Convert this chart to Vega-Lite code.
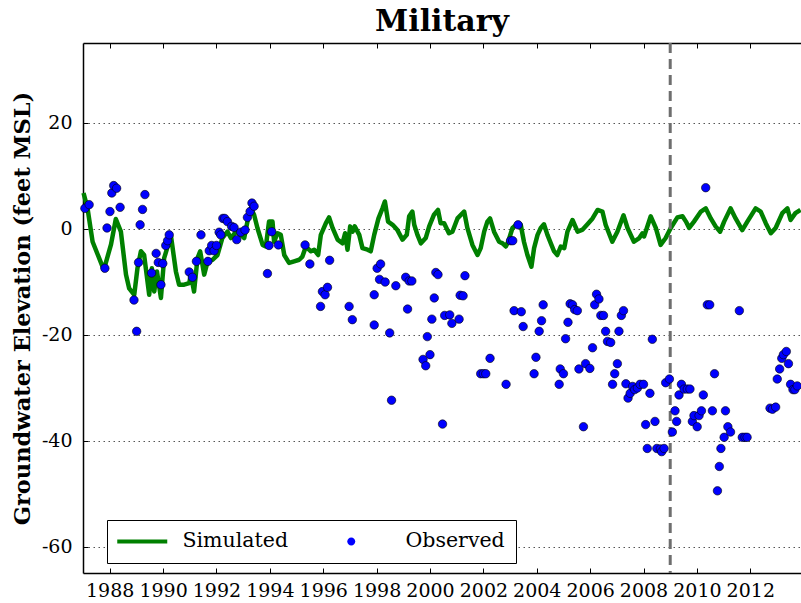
{
  "$schema": "https://vega.github.io/schema/vega-lite/v6.json",
  "width": 718,
  "height": 530,
  "autosize": {"type": "none"},
  "padding": {"left": 83, "top": 43, "right": 0, "bottom": 30},
  "background": "white",
  "title": {"text": "Military", "font": "DejaVu Serif", "fontSize": 30, "fontWeight": "bold", "color": "black", "baseline": "alphabetic", "offset": -19},
  "config": {
    "view": {"stroke": null},
    "axis": {"labelFont": "DejaVu Serif", "labelFontSize": 19, "labelColor": "black", "tickColor": "black", "tickWidth": 1, "domainColor": "black", "domainWidth": 1.5, "labelExpr": "'' + datum.value"}
  },
  "datasets": {
    "sim": [
      {"year": 1987.02, "elev": 6.7}, {"year": 1987.17, "elev": 3.8}, {"year": 1987.36, "elev": -2.5}, {"year": 1987.55, "elev": -4.9},
      {"year": 1987.78, "elev": -7.8}, {"year": 1988.05, "elev": -3.0}, {"year": 1988.23, "elev": 1.8}, {"year": 1988.42, "elev": -0.6},
      {"year": 1988.61, "elev": -8.7}, {"year": 1988.73, "elev": -11.3}, {"year": 1988.92, "elev": -12.5}, {"year": 1989.04, "elev": -7.5},
      {"year": 1989.17, "elev": -4.3}, {"year": 1989.29, "elev": -5.0}, {"year": 1989.48, "elev": -12.5}, {"year": 1989.58, "elev": -7.5},
      {"year": 1989.67, "elev": -11.9}, {"year": 1989.77, "elev": -8.1}, {"year": 1989.92, "elev": -13.1}, {"year": 1990.04, "elev": -5.6},
      {"year": 1990.19, "elev": -3.1}, {"year": 1990.29, "elev": -1.2}, {"year": 1990.48, "elev": -8.1}, {"year": 1990.6, "elev": -10.6},
      {"year": 1990.79, "elev": -10.6}, {"year": 1990.98, "elev": -10.3}, {"year": 1991.04, "elev": -8.7}, {"year": 1991.16, "elev": -11.9},
      {"year": 1991.29, "elev": -5.6}, {"year": 1991.39, "elev": -4.3}, {"year": 1991.54, "elev": -8.7}, {"year": 1991.67, "elev": -6.2},
      {"year": 1991.85, "elev": -5.9}, {"year": 1992.04, "elev": -5.0}, {"year": 1992.22, "elev": -1.8}, {"year": 1992.41, "elev": -0.6},
      {"year": 1992.54, "elev": -1.8}, {"year": 1992.73, "elev": -0.6}, {"year": 1992.91, "elev": -1.2}, {"year": 1993.04, "elev": -1.8},
      {"year": 1993.16, "elev": 1.3}, {"year": 1993.29, "elev": 3.8}, {"year": 1993.41, "elev": 2.6}, {"year": 1993.54, "elev": 0.0},
      {"year": 1993.73, "elev": -3.1}, {"year": 1993.85, "elev": -3.4}, {"year": 1993.97, "elev": 1.3}, {"year": 1994.1, "elev": 1.3},
      {"year": 1994.16, "elev": -2.5}, {"year": 1994.29, "elev": -0.9}, {"year": 1994.41, "elev": -1.2}, {"year": 1994.54, "elev": -5.0},
      {"year": 1994.72, "elev": -6.5}, {"year": 1994.91, "elev": -6.2}, {"year": 1995.1, "elev": -5.9}, {"year": 1995.22, "elev": -5.3},
      {"year": 1995.35, "elev": -3.4}, {"year": 1995.54, "elev": -4.3}, {"year": 1995.66, "elev": -4.0}, {"year": 1995.81, "elev": -5.0},
      {"year": 1995.91, "elev": -1.2}, {"year": 1996.1, "elev": 1.0}, {"year": 1996.22, "elev": 2.1}, {"year": 1996.35, "elev": 0.1},
      {"year": 1996.54, "elev": -2.1}, {"year": 1996.72, "elev": -2.8}, {"year": 1996.82, "elev": -0.9}, {"year": 1996.91, "elev": -4.0},
      {"year": 1997.01, "elev": 0.4}, {"year": 1997.1, "elev": -0.6}, {"year": 1997.18, "elev": 0.4}, {"year": 1997.35, "elev": -1.2},
      {"year": 1997.47, "elev": -3.7}, {"year": 1997.66, "elev": -4.0}, {"year": 1997.78, "elev": -4.3}, {"year": 1997.91, "elev": -1.2},
      {"year": 1998.07, "elev": 1.9}, {"year": 1998.22, "elev": 3.8}, {"year": 1998.31, "elev": 5.1}, {"year": 1998.43, "elev": 1.3},
      {"year": 1998.6, "elev": 0.7}, {"year": 1998.78, "elev": -0.3}, {"year": 1998.97, "elev": -2.1}, {"year": 1999.13, "elev": -1.2},
      {"year": 1999.22, "elev": 2.3}, {"year": 1999.34, "elev": 3.2}, {"year": 1999.41, "elev": 0.7}, {"year": 1999.53, "elev": -1.2},
      {"year": 1999.66, "elev": -2.8}, {"year": 1999.84, "elev": -1.8}, {"year": 1999.97, "elev": 0.4}, {"year": 2000.15, "elev": 2.6},
      {"year": 2000.3, "elev": 3.5}, {"year": 2000.4, "elev": 1.0}, {"year": 2000.53, "elev": 1.0}, {"year": 2000.71, "elev": -0.9},
      {"year": 2000.84, "elev": -0.6}, {"year": 2001.03, "elev": 1.9}, {"year": 2001.28, "elev": 3.2}, {"year": 2001.4, "elev": 0.1},
      {"year": 2001.59, "elev": -3.1}, {"year": 2001.78, "elev": -5.0}, {"year": 2001.9, "elev": -3.7}, {"year": 2002.03, "elev": -0.6},
      {"year": 2002.15, "elev": 1.3}, {"year": 2002.25, "elev": 1.9}, {"year": 2002.4, "elev": -0.6}, {"year": 2002.59, "elev": -2.5},
      {"year": 2002.72, "elev": -2.8}, {"year": 2002.84, "elev": -3.4}, {"year": 2002.93, "elev": -2.5}, {"year": 2003.09, "elev": 0.1},
      {"year": 2003.3, "elev": 1.0}, {"year": 2003.4, "elev": 0.7}, {"year": 2003.52, "elev": -2.5}, {"year": 2003.65, "elev": -5.0},
      {"year": 2003.8, "elev": -7.2}, {"year": 2003.9, "elev": -3.7}, {"year": 2004.03, "elev": -1.2}, {"year": 2004.15, "elev": 0.1},
      {"year": 2004.27, "elev": 0.8}, {"year": 2004.4, "elev": -1.2}, {"year": 2004.55, "elev": -3.1}, {"year": 2004.65, "elev": -4.3},
      {"year": 2004.77, "elev": -5.0}, {"year": 2004.9, "elev": -3.4}, {"year": 2005.03, "elev": -3.7}, {"year": 2005.15, "elev": -0.6},
      {"year": 2005.34, "elev": 1.6}, {"year": 2005.53, "elev": -0.6}, {"year": 2005.72, "elev": -0.2}, {"year": 2005.9, "elev": 0.8},
      {"year": 2006.09, "elev": 1.9}, {"year": 2006.28, "elev": 3.5}, {"year": 2006.46, "elev": 3.2}, {"year": 2006.58, "elev": 0.7},
      {"year": 2006.83, "elev": -2.5}, {"year": 2007.02, "elev": -0.6}, {"year": 2007.25, "elev": 2.5}, {"year": 2007.4, "elev": 0.1},
      {"year": 2007.64, "elev": -2.5}, {"year": 2007.84, "elev": -1.8}, {"year": 2007.96, "elev": -0.9}, {"year": 2008.02, "elev": -1.5},
      {"year": 2008.27, "elev": 2.3}, {"year": 2008.46, "elev": 0.1}, {"year": 2008.64, "elev": -3.1}, {"year": 2008.83, "elev": -1.8},
      {"year": 2009.02, "elev": 0.1}, {"year": 2009.27, "elev": 2.1}, {"year": 2009.46, "elev": 2.3}, {"year": 2009.59, "elev": 1.3},
      {"year": 2009.71, "elev": 0.1}, {"year": 2009.89, "elev": 1.3}, {"year": 2010.15, "elev": 3.2}, {"year": 2010.33, "elev": 3.8},
      {"year": 2010.52, "elev": 1.9}, {"year": 2010.7, "elev": 0.4}, {"year": 2010.87, "elev": -0.6}, {"year": 2011.02, "elev": 1.3},
      {"year": 2011.26, "elev": 3.8}, {"year": 2011.45, "elev": 1.9}, {"year": 2011.7, "elev": -0.3}, {"year": 2011.89, "elev": 1.3},
      {"year": 2012.2, "elev": 3.8}, {"year": 2012.39, "elev": 3.2}, {"year": 2012.58, "elev": 1.0}, {"year": 2012.77, "elev": -0.9},
      {"year": 2012.95, "elev": 0.1}, {"year": 2013.2, "elev": 2.9}, {"year": 2013.39, "elev": 3.8}, {"year": 2013.51, "elev": 1.6},
      {"year": 2013.69, "elev": 2.9}, {"year": 2013.88, "elev": 3.5}
    ],
    "obs": [
      {"year": 1987.07, "elev": 3.8, "series": "Observed"}, {"year": 1987.23, "elev": 4.5, "series": "Observed"},
      {"year": 1987.82, "elev": -7.5, "series": "Observed"}, {"year": 1987.9, "elev": 0.1, "series": "Observed"},
      {"year": 1988.01, "elev": 3.2, "series": "Observed"}, {"year": 1988.08, "elev": 6.7, "series": "Observed"},
      {"year": 1988.15, "elev": 8.1, "series": "Observed"}, {"year": 1988.26, "elev": 7.6, "series": "Observed"},
      {"year": 1988.39, "elev": 4.0, "series": "Observed"}, {"year": 1988.91, "elev": -13.5, "series": "Observed"},
      {"year": 1989.01, "elev": -19.4, "series": "Observed"}, {"year": 1989.08, "elev": -6.4, "series": "Observed"},
      {"year": 1989.14, "elev": 0.7, "series": "Observed"}, {"year": 1989.23, "elev": 3.6, "series": "Observed"},
      {"year": 1989.32, "elev": 6.4, "series": "Observed"}, {"year": 1989.57, "elev": -8.4, "series": "Observed"},
      {"year": 1989.74, "elev": -4.7, "series": "Observed"}, {"year": 1989.82, "elev": -6.4, "series": "Observed"},
      {"year": 1989.92, "elev": -10.6, "series": "Observed"}, {"year": 1989.99, "elev": -6.6, "series": "Observed"},
      {"year": 1990.1, "elev": -3.2, "series": "Observed"}, {"year": 1990.17, "elev": -2.3, "series": "Observed"},
      {"year": 1990.23, "elev": -1.2, "series": "Observed"}, {"year": 1990.98, "elev": -8.2, "series": "Observed"},
      {"year": 1991.1, "elev": -9.2, "series": "Observed"}, {"year": 1991.25, "elev": -6.2, "series": "Observed"},
      {"year": 1991.42, "elev": -1.2, "series": "Observed"}, {"year": 1991.68, "elev": -6.2, "series": "Observed"},
      {"year": 1991.73, "elev": -4.2, "series": "Observed"}, {"year": 1991.82, "elev": -3.2, "series": "Observed"},
      {"year": 1991.91, "elev": -4.2, "series": "Observed"}, {"year": 1992.0, "elev": -3.2, "series": "Observed"},
      {"year": 1992.1, "elev": -0.7, "series": "Observed"}, {"year": 1992.16, "elev": -1.2, "series": "Observed"},
      {"year": 1992.24, "elev": 1.9, "series": "Observed"}, {"year": 1992.31, "elev": 1.9, "series": "Observed"},
      {"year": 1992.41, "elev": 1.3, "series": "Observed"}, {"year": 1992.57, "elev": 0.4, "series": "Observed"},
      {"year": 1992.66, "elev": 0.2, "series": "Observed"}, {"year": 1992.76, "elev": -2.1, "series": "Observed"},
      {"year": 1992.91, "elev": -0.7, "series": "Observed"}, {"year": 1993.07, "elev": -0.3, "series": "Observed"},
      {"year": 1993.16, "elev": 2.1, "series": "Observed"}, {"year": 1993.26, "elev": 3.2, "series": "Observed"},
      {"year": 1993.33, "elev": 4.8, "series": "Observed"}, {"year": 1993.41, "elev": 4.2, "series": "Observed"},
      {"year": 1993.91, "elev": -8.5, "series": "Observed"}, {"year": 1993.97, "elev": -3.2, "series": "Observed"},
      {"year": 1994.07, "elev": -0.6, "series": "Observed"}, {"year": 1994.32, "elev": -3.1, "series": "Observed"},
      {"year": 1995.32, "elev": -3.1, "series": "Observed"}, {"year": 1995.5, "elev": -6.7, "series": "Observed"},
      {"year": 1995.9, "elev": -14.7, "series": "Observed"}, {"year": 1995.97, "elev": -11.9, "series": "Observed"},
      {"year": 1996.07, "elev": -12.5, "series": "Observed"}, {"year": 1996.16, "elev": -11.1, "series": "Observed"},
      {"year": 1996.24, "elev": -6.0, "series": "Observed"}, {"year": 1996.97, "elev": -14.7, "series": "Observed"},
      {"year": 1997.09, "elev": -17.2, "series": "Observed"}, {"year": 1997.91, "elev": -12.5, "series": "Observed"},
      {"year": 1997.91, "elev": -18.2, "series": "Observed"}, {"year": 1998.02, "elev": -7.5, "series": "Observed"},
      {"year": 1998.15, "elev": -6.7, "series": "Observed"}, {"year": 1998.11, "elev": -9.6, "series": "Observed"},
      {"year": 1998.32, "elev": -10.1, "series": "Observed"}, {"year": 1998.49, "elev": -19.7, "series": "Observed"},
      {"year": 1998.56, "elev": -32.4, "series": "Observed"}, {"year": 1998.72, "elev": -10.8, "series": "Observed"},
      {"year": 1999.09, "elev": -9.2, "series": "Observed"}, {"year": 1999.22, "elev": -9.9, "series": "Observed"},
      {"year": 1999.32, "elev": -9.9, "series": "Observed"}, {"year": 1999.16, "elev": -15.2, "series": "Observed"},
      {"year": 1999.74, "elev": -24.7, "series": "Observed"}, {"year": 1999.84, "elev": -25.9, "series": "Observed"},
      {"year": 1999.9, "elev": -20.4, "series": "Observed"}, {"year": 2000.0, "elev": -23.8, "series": "Observed"},
      {"year": 2000.07, "elev": -17.1, "series": "Observed"}, {"year": 2000.16, "elev": -13.1, "series": "Observed"},
      {"year": 2000.22, "elev": -8.3, "series": "Observed"}, {"year": 2000.3, "elev": -8.7, "series": "Observed"},
      {"year": 2000.47, "elev": -36.9, "series": "Observed"}, {"year": 2000.55, "elev": -16.4, "series": "Observed"},
      {"year": 2000.74, "elev": -16.3, "series": "Observed"}, {"year": 2000.82, "elev": -17.9, "series": "Observed"},
      {"year": 2001.09, "elev": -17.1, "series": "Observed"}, {"year": 2001.13, "elev": -12.6, "series": "Observed"},
      {"year": 2001.24, "elev": -12.7, "series": "Observed"}, {"year": 2001.31, "elev": -8.9, "series": "Observed"},
      {"year": 2001.9, "elev": -27.4, "series": "Observed"}, {"year": 2002.0, "elev": -27.4, "series": "Observed"},
      {"year": 2002.09, "elev": -27.4, "series": "Observed"}, {"year": 2002.25, "elev": -24.5, "series": "Observed"},
      {"year": 2002.85, "elev": -29.4, "series": "Observed"}, {"year": 2003.02, "elev": -2.3, "series": "Observed"},
      {"year": 2003.1, "elev": -2.3, "series": "Observed"}, {"year": 2003.3, "elev": 0.7, "series": "Observed"},
      {"year": 2003.15, "elev": -15.5, "series": "Observed"}, {"year": 2003.42, "elev": -15.7, "series": "Observed"},
      {"year": 2003.49, "elev": -18.5, "series": "Observed"}, {"year": 2003.9, "elev": -27.4, "series": "Observed"},
      {"year": 2003.97, "elev": -24.3, "series": "Observed"}, {"year": 2004.09, "elev": -19.4, "series": "Observed"},
      {"year": 2004.18, "elev": -17.4, "series": "Observed"}, {"year": 2004.24, "elev": -14.4, "series": "Observed"},
      {"year": 2004.84, "elev": -29.4, "series": "Observed"}, {"year": 2004.88, "elev": -26.5, "series": "Observed"},
      {"year": 2005.0, "elev": -27.4, "series": "Observed"}, {"year": 2005.08, "elev": -20.8, "series": "Observed"},
      {"year": 2005.17, "elev": -17.7, "series": "Observed"}, {"year": 2005.25, "elev": -14.2, "series": "Observed"},
      {"year": 2005.34, "elev": -14.4, "series": "Observed"}, {"year": 2005.42, "elev": -15.3, "series": "Observed"},
      {"year": 2005.52, "elev": -15.5, "series": "Observed"}, {"year": 2005.58, "elev": -26.5, "series": "Observed"},
      {"year": 2005.75, "elev": -37.4, "series": "Observed"}, {"year": 2005.83, "elev": -25.5, "series": "Observed"},
      {"year": 2005.99, "elev": -26.4, "series": "Observed"}, {"year": 2006.09, "elev": -22.5, "series": "Observed"},
      {"year": 2006.17, "elev": -14.4, "series": "Observed"}, {"year": 2006.24, "elev": -12.4, "series": "Observed"},
      {"year": 2006.33, "elev": -13.3, "series": "Observed"}, {"year": 2006.4, "elev": -16.4, "series": "Observed"},
      {"year": 2006.5, "elev": -16.4, "series": "Observed"}, {"year": 2006.58, "elev": -19.4, "series": "Observed"},
      {"year": 2006.65, "elev": -21.3, "series": "Observed"}, {"year": 2006.77, "elev": -21.5, "series": "Observed"},
      {"year": 2006.84, "elev": -29.4, "series": "Observed"}, {"year": 2006.92, "elev": -27.4, "series": "Observed"},
      {"year": 2007.02, "elev": -25.5, "series": "Observed"}, {"year": 2007.08, "elev": -19.4, "series": "Observed"},
      {"year": 2007.17, "elev": -16.4, "series": "Observed"}, {"year": 2007.25, "elev": -15.5, "series": "Observed"},
      {"year": 2007.34, "elev": -29.3, "series": "Observed"}, {"year": 2007.42, "elev": -32.0, "series": "Observed"},
      {"year": 2007.5, "elev": -31.1, "series": "Observed"}, {"year": 2007.59, "elev": -29.8, "series": "Observed"},
      {"year": 2007.67, "elev": -30.4, "series": "Observed"}, {"year": 2007.77, "elev": -30.1, "series": "Observed"},
      {"year": 2007.87, "elev": -29.4, "series": "Observed"}, {"year": 2008.0, "elev": -29.4, "series": "Observed"},
      {"year": 2008.08, "elev": -37.0, "series": "Observed"}, {"year": 2008.14, "elev": -41.5, "series": "Observed"},
      {"year": 2008.24, "elev": -31.1, "series": "Observed"}, {"year": 2008.33, "elev": -20.9, "series": "Observed"},
      {"year": 2008.43, "elev": -36.4, "series": "Observed"}, {"year": 2008.5, "elev": -41.5, "series": "Observed"},
      {"year": 2008.63, "elev": -41.6, "series": "Observed"}, {"year": 2008.68, "elev": -42.1, "series": "Observed"},
      {"year": 2008.77, "elev": -41.5, "series": "Observed"}, {"year": 2008.83, "elev": -29.1, "series": "Observed"},
      {"year": 2008.97, "elev": -28.4, "series": "Observed"}, {"year": 2009.08, "elev": -38.4, "series": "Observed"},
      {"year": 2009.18, "elev": -34.4, "series": "Observed"}, {"year": 2009.24, "elev": -36.4, "series": "Observed"},
      {"year": 2009.33, "elev": -31.4, "series": "Observed"}, {"year": 2009.42, "elev": -29.4, "series": "Observed"},
      {"year": 2009.52, "elev": -30.3, "series": "Observed"}, {"year": 2009.64, "elev": -30.3, "series": "Observed"},
      {"year": 2009.74, "elev": -30.3, "series": "Observed"}, {"year": 2009.83, "elev": -36.4, "series": "Observed"},
      {"year": 2009.89, "elev": -35.3, "series": "Observed"}, {"year": 2010.01, "elev": -37.4, "series": "Observed"},
      {"year": 2010.08, "elev": -35.3, "series": "Observed"}, {"year": 2010.17, "elev": -34.4, "series": "Observed"},
      {"year": 2010.24, "elev": -31.4, "series": "Observed"}, {"year": 2010.33, "elev": 7.7, "series": "Observed"},
      {"year": 2010.39, "elev": -14.4, "series": "Observed"}, {"year": 2010.48, "elev": -14.4, "series": "Observed"},
      {"year": 2010.58, "elev": -34.4, "series": "Observed"}, {"year": 2010.66, "elev": -27.4, "series": "Observed"},
      {"year": 2010.77, "elev": -49.5, "series": "Observed"}, {"year": 2010.84, "elev": -44.9, "series": "Observed"},
      {"year": 2010.9, "elev": -41.5, "series": "Observed"}, {"year": 2011.02, "elev": -39.4, "series": "Observed"},
      {"year": 2011.07, "elev": -34.4, "series": "Observed"}, {"year": 2011.16, "elev": -37.4, "series": "Observed"},
      {"year": 2011.26, "elev": -38.4, "series": "Observed"}, {"year": 2011.59, "elev": -15.5, "series": "Observed"},
      {"year": 2011.7, "elev": -39.4, "series": "Observed"}, {"year": 2011.8, "elev": -39.4, "series": "Observed"},
      {"year": 2011.88, "elev": -39.4, "series": "Observed"}, {"year": 2012.74, "elev": -33.9, "series": "Observed"},
      {"year": 2012.83, "elev": -34.1, "series": "Observed"}, {"year": 2012.95, "elev": -33.7, "series": "Observed"},
      {"year": 2013.01, "elev": -28.4, "series": "Observed"}, {"year": 2013.1, "elev": -26.5, "series": "Observed"},
      {"year": 2013.18, "elev": -24.5, "series": "Observed"}, {"year": 2013.24, "elev": -23.8, "series": "Observed"},
      {"year": 2013.35, "elev": -23.2, "series": "Observed"}, {"year": 2013.43, "elev": -25.5, "series": "Observed"},
      {"year": 2013.51, "elev": -29.4, "series": "Observed"}, {"year": 2013.6, "elev": -30.4, "series": "Observed"},
      {"year": 2013.67, "elev": -30.4, "series": "Observed"}, {"year": 2013.76, "elev": -29.7, "series": "Observed"}
    ]
  },
  "resolve": {"axis": {"x": "independent"}},
  "layer": [
    {
      "data": {"name": "sim"},
      "mark": {"type": "line", "color": "#008000", "strokeWidth": 4.5, "strokeJoin": "round"},
      "encoding": {
        "x": {"field": "year", "type": "quantitative", "scale": {"domain": [1987, 2013.9], "nice": false, "zero": false},
              "axis": {"orient": "bottom", "values": [1988, 1990, 1992, 1994, 1996, 1998, 2000, 2002, 2004, 2006, 2008, 2010, 2012], "title": null, "grid": false, "tickSize": -5, "labelPadding": 13, "labelOverlap": false, "labelFlush": false}},
        "y": {"field": "elev", "type": "quantitative", "scale": {"domain": [-65, 35], "nice": false, "zero": false},
              "axis": {"values": [-60, -40, -20, 0, 20], "title": "Groundwater Elevation (feet MSL)", "titleFont": "DejaVu Serif", "titleFontSize": 22.5, "titleFontWeight": "bold", "titleColor": "black", "titlePadding": 7, "tickSize": -5, "labelPadding": 16, "grid": true, "gridColor": "#555555", "gridDash": [1.5, 3.5], "gridWidth": 1}}
      }
    },
    {
      "data": {"values": [{"year": 2009}]},
      "mark": {"type": "rule", "color": "#6e6e6e", "strokeWidth": 3, "strokeDash": [10, 6]},
      "encoding": {
        "x": {"field": "year", "type": "quantitative",
              "axis": {"orient": "top", "values": [1988, 1990, 1992, 1994, 1996, 1998, 2000, 2002, 2004, 2006, 2008, 2010, 2012], "labels": false, "title": null, "grid": false, "tickSize": -5}}
      }
    },
    {
      "data": {"name": "obs"},
      "mark": {"type": "point", "filled": true, "opacity": 1, "stroke": "black", "strokeWidth": 0.6, "size": 450},
      "encoding": {
        "x": {"field": "year", "type": "quantitative", "axis": null},
        "y": {"field": "elev", "type": "quantitative"},
        "color": {"field": "series", "type": "nominal", "scale": {"domain": ["Simulated", "Observed"], "range": ["#008000", "#0000ff"]},
                  "legend": {"title": null, "orient": "none", "legendX": 24, "legendY": 477, "direction": "horizontal", "columns": 2, "columnPadding": 52, "labelOffset": 44, "symbolSize": 400, "symbolStrokeWidth": 0, "padding": 11, "strokeColor": "black", "fillColor": "white", "labelFont": "DejaVu Serif", "labelFontSize": 20.5, "labelColor": "black"}},
        "shape": {"field": "series", "type": "nominal", "scale": {"domain": ["Simulated", "Observed"], "range": ["M-1.1,-0.2H3.9V0.2H-1.1Z", "M-0.4,0A0.4,0.4,0,1,0,0.4,0A0.4,0.4,0,1,0,-0.4,0Z"]}}
      }
    }
  ]
}
